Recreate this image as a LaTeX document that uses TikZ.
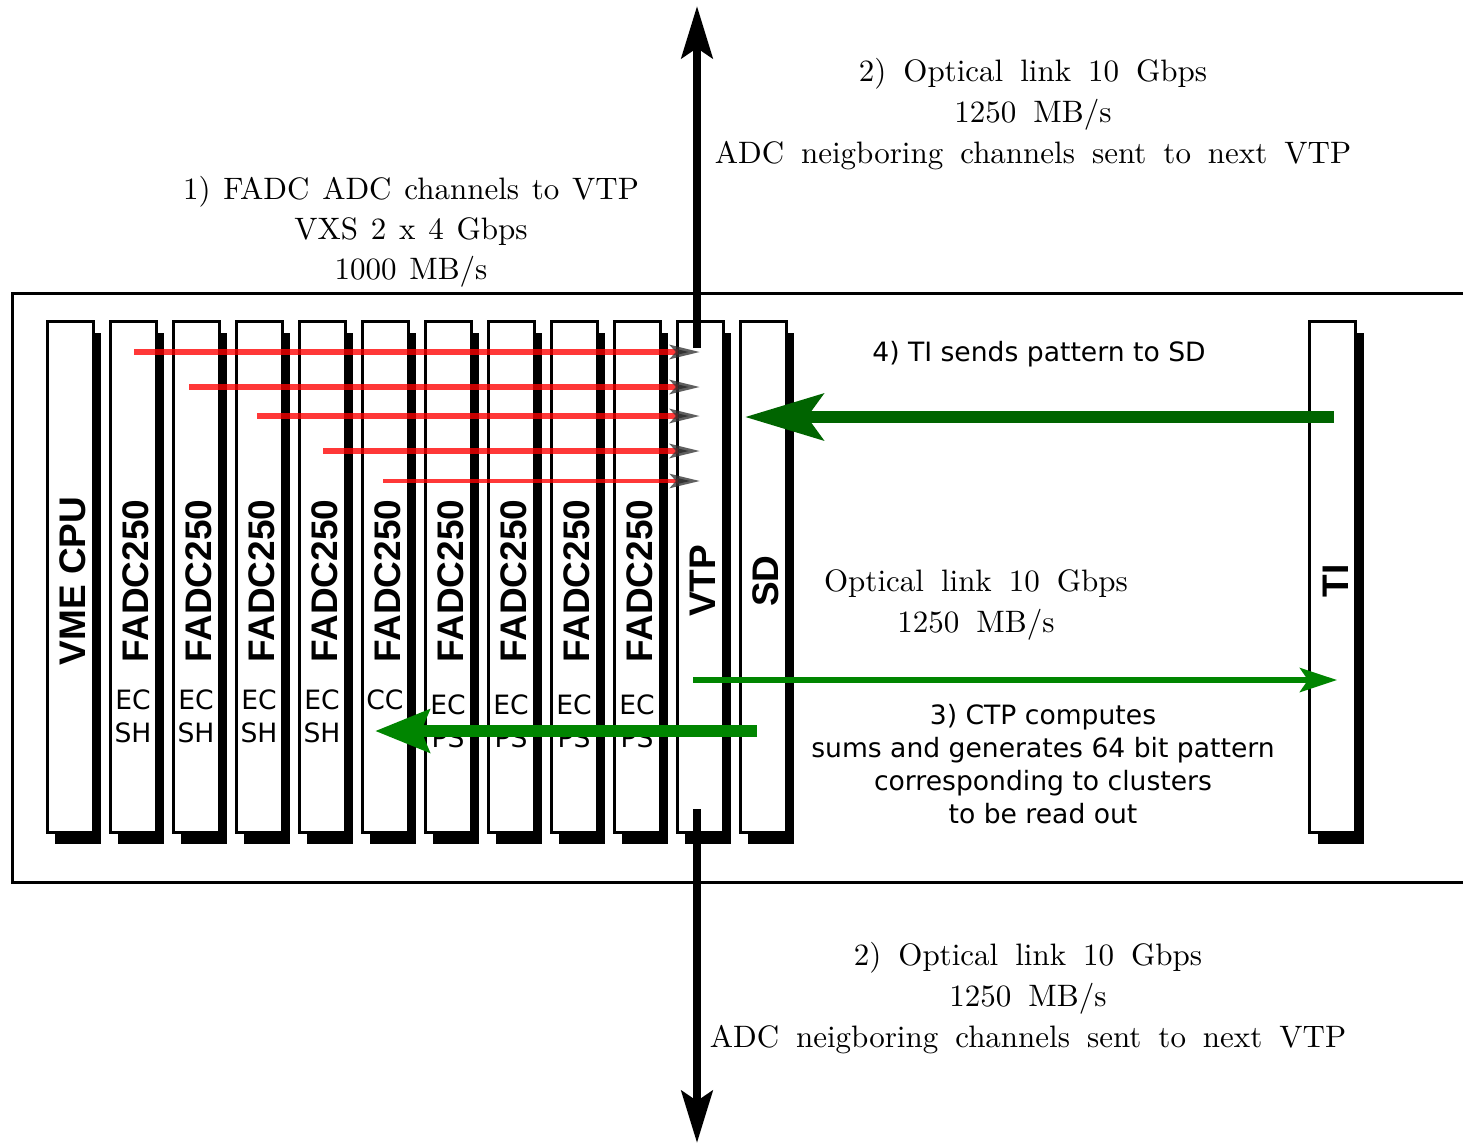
\documentclass[tikz,border=0pt]{standalone}
\usepackage{fontspec}
\setsansfont{Liberation Sans}
\newfontfamily\dejavu{DejaVu Sans}
\newfontfamily\cmten{lmroman10-regular.otf}
\usepackage{tikz}
\usetikzlibrary{positioning,arrows.meta,shadows}

\definecolor{tigreen}{RGB}{0,100,0}
\definecolor{linkgreen}{RGB}{0,133,0}
\newcommand{\widewords}{\spaceskip=8.5pt plus 1pt\relax}
\newcommand{\vxswords}{\spaceskip=6.4pt plus 1pt\relax}

\begin{document}
\begin{tikzpicture}[
  x=0.5pt, y=-0.5pt,
  node distance=7pt,
  board/.style={draw, line width=1.5pt, fill=white, inner sep=0pt,
    minimum width=23pt, minimum height=255.5pt,
    drop shadow={shadow xshift=4pt, shadow yshift=-5.5pt, opacity=1, fill=black}},
  blabel/.style={xshift=1.5pt, yshift=-2pt, rotate=90, inner sep=0pt,
    font=\sffamily\bfseries\fontsize{18.5}{20}\selectfont},
  tag/.style={align=center, inner sep=0pt, font=\dejavu\fontsize{13.3}{16.5}\selectfont},
  note/.style={align=center, font=\dejavu\fontsize{13.3}{16.5}\selectfont},
  rate/.style={align=center, font={\cmten\fontsize{15.5}{20.5}\selectfont\widewords}},
  adc/.style={draw=red, draw opacity=0.78, line width=2.6pt,
    -{Stealth[length=15pt, width=7pt, inset=3pt, color=black!80]}},
  fiber/.style={line width=4.25pt, -{Stealth[length=26pt, width=15.5pt, inset=5pt]}},
  >=Stealth
]
\useasboundingbox (0,0) rectangle (1463,1146);

% crate
\draw[line width=1.5pt] (1463,293) -| (12,882) -- (1463,882);

% boards
\node[board] (vme) at (70,577) {};
\node[board, right=of vme] (f1) {};
\node[board, right=of f1] (f2) {};
\node[board, right=of f2] (f3) {};
\node[board, right=of f3] (f4) {};
\node[board, right=of f4] (f5) {};
\node[board, right=of f5] (f6) {};
\node[board, right=of f6] (f7) {};
\node[board, right=of f7] (f8) {};
\node[board, right=of f8] (f9) {};
\node[board, right=of f9] (vtp) {};
\node[board, right=of vtp] (sd) {};
\node[board] (ti) at (1332.5,577) {};

\node[blabel] (vmel) at (vme) {VME CPU};
\node[blabel] (f1l) at (f1) {FADC250};
\node[blabel] (f2l) at (f2) {FADC250};
\node[blabel] (f3l) at (f3) {FADC250};
\node[blabel] (f4l) at (f4) {FADC250};
\node[blabel] (f5l) at (f5) {FADC250};
\node[blabel] (f6l) at (f6) {FADC250};
\node[blabel] (f7l) at (f7) {FADC250};
\node[blabel] (f8l) at (f8) {FADC250};
\node[blabel] (f9l) at (f9) {FADC250};
\node[blabel] (vtpl) at (vtp) {VTP};
\node[blabel] (sdl) at (sd) {SD};
\node[blabel] (til) at (ti) {TI};

% detector tags
\node[tag] (t1) at (f1 |- 0,716) {EC\\SH};
\node[tag] (t2) at (f2 |- 0,716) {EC\\SH};
\node[tag] (t3) at (f3 |- 0,716) {EC\\SH};
\node[tag] (t4) at (f4 |- 0,716) {EC\\SH};
\node[tag] (t5) at (f5 |- 0,700) {CC};
\node[tag] (t6) at (f6 |- 0,721) {EC\\PS};
\node[tag] (t7) at (f7 |- 0,721) {EC\\PS};
\node[tag] (t8) at (f8 |- 0,721) {EC\\PS};
\node[tag] (t9) at (f9 |- 0,721) {EC\\PS};

% texts
\node[rate, font={\cmten\fontsize{15.5}{20}\selectfont\vxswords}] (vxs) at (411,232) {1) FADC ADC channels to VTP\\VXS 2 x 4 Gbps\\1000 MB/s};
\node[rate] (upl) at (1033,114) {2) Optical link 10 Gbps\\1250 MB/s\\ADC neigboring channels sent to next VTP};
\node[rate] (dnl) at (1028,998) {2) Optical link 10 Gbps\\1250 MB/s\\ADC neigboring channels sent to next VTP};
\node[rate] (til10) at (976,605) {Optical link 10 Gbps\\1250 MB/s};
\node[note] (step4) at (1039,354) {4) TI sends pattern to SD};
\node[note] (ctp) at (1043,764) {3) CTP computes\\sums and generates 64 bit pattern\\corresponding to clusters\\to be read out};

% FADC -> VTP over VXS
\coordinate (a1) at (134,352);
\coordinate (a2) at (189,387);
\coordinate (a3) at (257,416);
\coordinate (a4) at (323,451);
\coordinate (a5) at (383,481);
\draw[adc] (a1) -- (a1 -| vtp);
\draw[adc] (a2) -- (a2 -| vtp);
\draw[adc] (a3) -- (a3 -| vtp);
\draw[adc] (a4) -- (a4 -| vtp);
\draw[adc, line width=2.3pt] (a5) -- (a5 -| vtp);

% trigger links
\coordinate (p4) at (1334,417);
\coordinate (p4e) at (745,417);
\coordinate (c3) at (693,680);
\coordinate (c3e) at (1337,680);
\coordinate (ro) at (757,731);
\coordinate (roe) at (375,731);
\draw[tigreen, line width=6pt, -{Stealth[length=39pt, width=23pt, inset=8pt]}] (p4) -- (p4e);
\draw[linkgreen, line width=3pt, -{Stealth[length=18.5pt, width=12pt, inset=4pt]}] (c3) -- (c3e);
\draw[linkgreen, line width=6pt, -{Stealth[length=27pt, width=21pt, inset=4pt]}] (ro) -- (roe);

% optical links to next VTP
\coordinate (upin) at (697,348);
\coordinate (uptip) at (697,6);
\coordinate (dnin) at (697,809);
\coordinate (dntip) at (697,1143);
\draw[fiber] (upin) -- (uptip);
\draw[fiber] (dnin) -- (dntip);
\end{tikzpicture}
\end{document}
